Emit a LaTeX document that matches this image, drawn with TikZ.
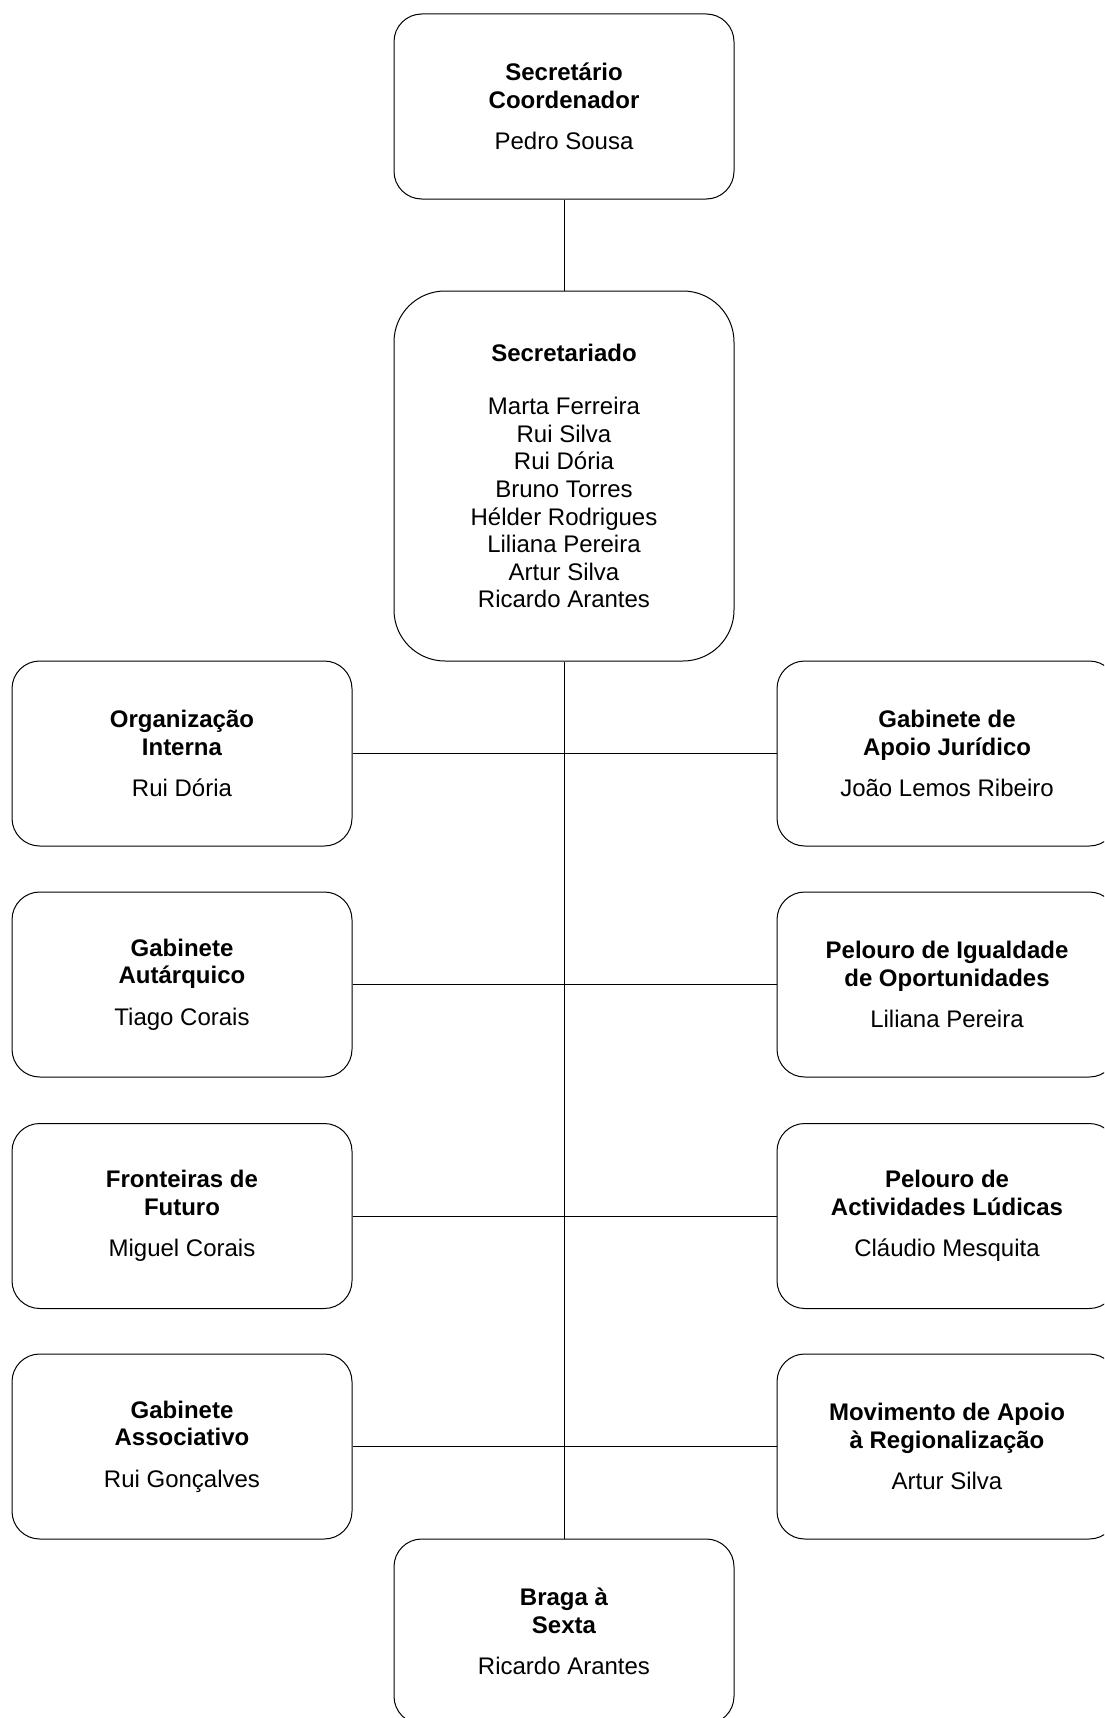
\documentclass[tikz,border=0pt]{standalone}
\usepackage{fontspec}
\setmainfont{Liberation Sans}
\begin{document}
\begin{tikzpicture}[x=1pt,y=-1pt,
  box/.style={draw=black, line width=1pt, rounded corners=27.75pt, minimum width=340pt, minimum height=185pt, inner sep=0pt, align=center, font=\fontsize{24}{27.6}\selectfont, fill=white},
  bigbox/.style={box, rounded corners=51pt, minimum height=370pt},
  link/.style={draw=black, line width=1pt}]
\useasboundingbox (0,0) rectangle (1104,1718);
\clip (0,0) rectangle (1104,1718);
\fill[white] (0,0) rectangle (1104,1718);
% nodes
\node[box] (top) at (564,106.5) {\textbf{Secretário}\\\textbf{Coordenador}\\[14pt]Pedro Sousa};
\node[bigbox] (sec) at (564,476) {\textbf{Secretariado}\\[26pt]Marta Ferreira\\Rui Silva\\Rui Dória\\Bruno Torres\\Hélder Rodrigues\\Liliana Pereira\\Artur Silva\\Ricardo Arantes};
\node[box] (l1) at (182,753.5) {\textbf{Organização}\\\textbf{Interna}\\[14pt]Rui Dória};
\node[box] (r1) at (947,753.5) {\textbf{Gabinete de}\\\textbf{Apoio Jurídico}\\[14pt]João Lemos Ribeiro};
\node[box] (l2) at (182,984.5) {\textbf{Gabinete}\\\textbf{Autárquico}\\[14pt]Tiago Corais};
\node[box] (r2) at (947,984.5) {\textbf{Pelouro de Igualdade}\\\textbf{de Oportunidades}\\[14pt]Liliana Pereira};
\node[box] (l3) at (182,1216) {\textbf{Fronteiras de}\\\textbf{Futuro}\\[14pt]Miguel Corais};
\node[box] (r3) at (947,1216) {\textbf{Pelouro de}\\\textbf{Actividades Lúdicas}\\[14pt]Cláudio Mesquita};
\node[box] (l4) at (182,1446.5) {\textbf{Gabinete}\\\textbf{Associativo}\\[14pt]Rui Gonçalves};
\node[box] (r4) at (947,1446.5) {\textbf{Movimento de Apoio}\\\textbf{à Regionalização}\\[14pt]Artur Silva};
\node[box] (bot) at (564,1631.5) {\textbf{Braga à}\\\textbf{Sexta}\\[14pt]Ricardo Arantes};
% connectors
\draw[link] (top.south) -- (sec.north);
\draw[link] (sec.south) -- (bot.north);
\draw[link] (l1.east) -- (r1.west);
\draw[link] (l2.east) -- (r2.west);
\draw[link] (l3.east) -- (r3.west);
\draw[link] (l4.east) -- (r4.west);
\end{tikzpicture}
\end{document}
